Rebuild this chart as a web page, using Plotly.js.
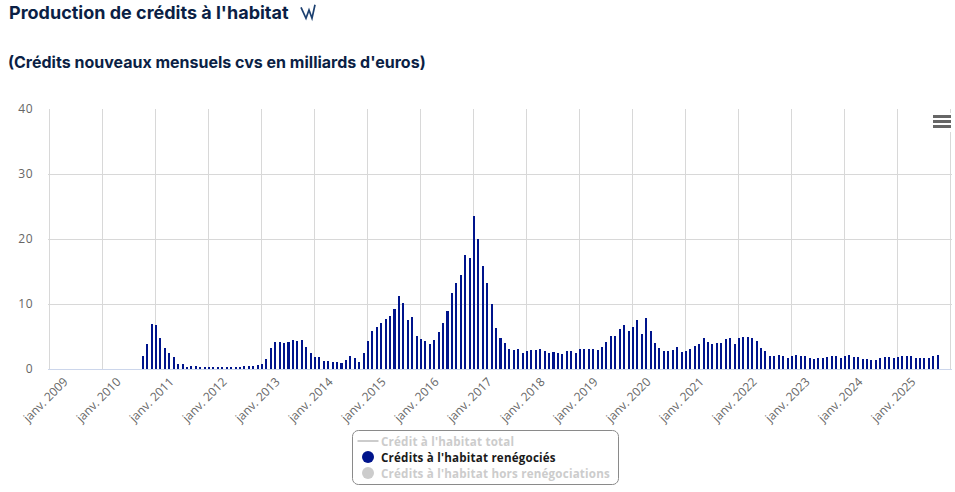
<!DOCTYPE html>
<html><head><meta charset="utf-8">
<script src="https://cdn.plot.ly/plotly-3.0.1.min.js"></script>
<style>html,body{margin:0;padding:0;background:#fff}
.ytick text{letter-spacing:.5px}
.legendtext{letter-spacing:.2px}</style></head>
<body><div id="chart" style="width:955px;height:492px"></div>
<script>
const titleText = "Production de crédits à l'habitat";
const subtitleText = "(Crédits nouveaux mensuels cvs en milliards d'euros)";
const monthNames = ["janv.","févr.","mars","avr.","mai","juin","juil.","août","sept.","oct.","nov.","déc."];
const firstYear = 2009, lastYear = 2026;
const seriesTotal = "Crédit à l'habitat total";
const seriesRenego = "Crédits à l'habitat renégociés";
const seriesHors = "Crédits à l'habitat hors renégociations";
// Months before the first published value (janv. 2009 – sept. 2010)
const emptyMonthsBefore = 21;
// Crédits à l'habitat renégociés, oct. 2010 – oct. 2025
const renegocies = [
2.05,3.9,7.0,6.8,4.8,3.3,2.4,1.9,0.8,0.7,0.35,0.5,0.5,0.35,0.35,0.35,0.2,0.35,0.2,0.35,0.35,0.35,0.35,0.5,0.5,0.5,0.65,0.8,1.6,3.3,4.2,4.2,4.05,4.2,4.5,4.35,4.5,3.4,2.5,1.9,1.9,
1.3,1.3,1.1,1.1,1.0,1.4,2.05,1.75,1.1,2.5,4.35,5.9,6.5,7.1,7.75,8.2,9.3,11.3,10.2,7.6,8.05,5.1,4.65,4.35,3.9,4.5,5.75,7.1,9.0,11.75,13.3,14.5,17.6,17.1,23.6,20.05,15.9,13.3,10.05,6.35,4.8,4.05,3.1,3.0,3.1,2.5,2.8,3.0,3.0,3.1,2.8,2.5,2.65,2.5,2.35,2.8,2.8,2.5,3.1,3.1,3.1,3.1,3.0,3.45,4.2,5.1,5.1,6.2,6.8,5.9,6.5,7.6,
5.4,7.9,5.9,4.05,3.3,2.8,2.8,3.0,3.45,2.65,2.8,3.1,3.6,3.9,4.8,4.2,3.9,4.05,4.05,4.65,4.8,3.9,4.8,5.0,5.0,4.8,4.35,3.3,2.8,2.05,2.05,2.2,2.05,1.75,2.05,2.2,2.05,2.05,1.75,1.6,1.75,1.75,1.9,2.05,2.05,1.75,2.05,2.2,1.9,1.9,1.6,1.6,1.45,1.45,1.75,1.9,1.9,1.75,1.9,2.05,2.05,2.05,1.75,1.75,1.75,1.75,2.05,2.2];
const yTicks = [0,10,20,30,40];

const months = [];
for (let y = firstYear; y <= lastYear; y++) {
  for (const m of monthNames) { months.push(m + " " + y); if (y === lastYear) break; }
}
const tickCats = months.filter(m => m.startsWith("janv."));
const tickLabels = tickCats.map(m => m.endsWith(String(lastYear)) ? "" : m);
const yValues = new Array(emptyMonthsBefore).fill(null).concat(renegocies);

const W = 955, H = 492, L = 48, R = 952, T = 109, B = 369;
const px = v => (v - L) / (R - L), py = v => (B - v) / (B - T);
const NAVY = "#00148c", INK = "#0b1f45";
const rectShape = (x0,y0,x1,y1,fill) => ({type:"rect",xref:"paper",yref:"paper",x0:px(x0),x1:px(x1),y0:py(y0),y1:py(y1),fillcolor:fill,line:{width:0},layer:"above"});
const pathOf = pts => pts.map((p,i)=>(i?"L":"M")+px(p[0])+","+py(p[1])).join(" ");
// rounded legend box
function roundedBox(x0,y0,x1,y1,r){
  const n = 5, pts = [];
  const corners = [[x1-r,y0+r,-90],[x1-r,y1-r,0],[x0+r,y1-r,90],[x0+r,y0+r,180]];
  for (const c of corners) for (let i=0;i<=n;i++){
    const a=(c[2]+i*90/n)*Math.PI/180; pts.push([c[0]+r*Math.cos(a),c[1]+r*Math.sin(a)]);
  }
  return pathOf(pts)+" Z";
}
const traces = [
 {type:"bar",x:months,y:yValues,width:0.46,offset:-0.07,marker:{color:NAVY,line:{width:0}},name:seriesRenego,showlegend:false,hovertemplate:"%{x}<br>%{y}<extra></extra>"},
 {type:"scatter",mode:"markers",x:[months[0]],y:[null],name:'<span style="color:#cccccc">'+seriesTotal+'</span>',marker:{symbol:"line-ew",size:15,line:{width:2,color:"#cccccc"},color:"#cccccc"},hoverinfo:"skip"},
 {type:"scatter",mode:"markers",x:[months[0]],y:[null],name:'<span style="color:#1a1a1a">'+seriesRenego+'</span>',marker:{symbol:"circle",size:12,color:NAVY},hoverinfo:"skip"},
 {type:"scatter",mode:"markers",x:[months[0]],y:[null],name:'<span style="color:#cccccc">'+seriesHors+'</span>',marker:{symbol:"circle",size:12,color:"#cccccc"},hoverinfo:"skip"}
];
const layout = {
 width:W,height:H,autosize:false,paper_bgcolor:"#fff",plot_bgcolor:"#fff",
 margin:{l:L,r:W-R,t:T,b:H-B,pad:0,autoexpand:false},
 bargap:0,
 title:{text:"<b>"+titleText+"</b>",x:9/W,xanchor:"left",xref:"container",y:1-12.5/H,yanchor:"middle",yref:"container",font:{family:"Inter",size:18,color:INK}},
 annotations:[{text:"<b>"+subtitleText+"</b>",xref:"paper",yref:"paper",x:px(5.5),y:py(62),xanchor:"left",yanchor:"middle",showarrow:false,align:"left",font:{family:"Inter",size:16,color:INK}}],
 xaxis:{type:"category",categoryorder:"array",categoryarray:months,range:[-0.3,204.4],tickmode:"array",tickvals:tickCats,ticktext:tickLabels,tickangle:-45,ticklabelshift:15,ticklabelstandoff:0,ticklen:0,showgrid:true,gridcolor:"#d8d8d8",gridwidth:1,showline:true,linecolor:"#ccd6eb",linewidth:1,zeroline:false,tickfont:{family:"Open Sans",size:12,color:"#666"},fixedrange:true,automargin:false},
 yaxis:{range:[0,40],tickmode:"array",tickvals:yTicks,ticklen:0,ticklabelstandoff:14,ticklabelshift:-1.5,showgrid:true,gridcolor:"#d8d8d8",gridwidth:1,zeroline:false,showline:false,tickfont:{family:"Open Sans",size:12,color:"#666"},fixedrange:true,automargin:false},
 legend:{x:px(344),y:py(429),xanchor:"left",yanchor:"top",bgcolor:"rgba(0,0,0,0)",borderwidth:0,font:{family:"Open Sans",size:11.6,weight:700,color:"#1a1a1a"},tracegroupgap:0,itemclick:false,itemdoubleclick:false},
 shapes:[
  {type:"path",xref:"paper",yref:"paper",path:roundedBox(352.5,430.5,618.5,484.5,6),line:{color:"#8a8a8a",width:1},fillcolor:"#fff",layer:"below"},
  rectShape(930,113,953,132,"#fff"),
  rectShape(933,115,951,118,"#666"),rectShape(933,120,951,123,"#666"),rectShape(933,125,951,128,"#666"),
  {type:"path",xref:"paper",yref:"paper",path:pathOf([[301,7.3],[306,18.3],[309,10],[312,18.3],[315,4.7]]),line:{color:"#1c4070",width:1.7},layer:"above"}
 ]
};
Plotly.newPlot("chart",traces,layout,{displayModeBar:false,responsive:false}).then(gd=>{
  // tighten the legend rows to the compact spacing of the reference
  const rows = gd.querySelectorAll(".legend .traces");
  rows.forEach((r,i)=>r.setAttribute("transform","translate(0,"+(12+i*16)+")"));
  gd.querySelectorAll(".legend .legendsymbols").forEach(s=>s.setAttribute("transform","translate(4,0)"));
  gd.querySelectorAll(".legend .legendtext").forEach(t=>t.setAttribute("x","37"));
});
</script></body></html>
